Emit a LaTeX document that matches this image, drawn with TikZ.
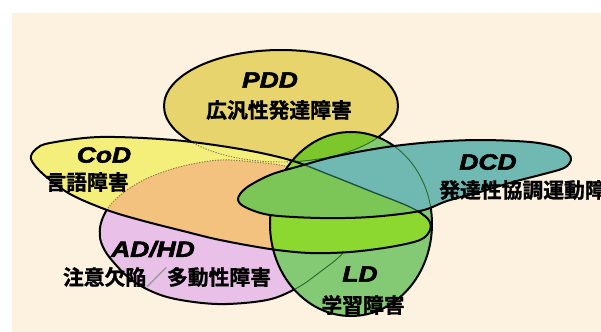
\documentclass[tikz,border=0pt]{standalone}
\usepackage{fontspec}
\usepackage{graphicx}
\newfontfamily\jpfont{Noto Sans CJK JP}[BoldFont={* Bold}, BoldFeatures={FakeBold=1.2}]
\newfontfamily\latinfont{Liberation Sans}[FakeBold=2.5]
\definecolor{bgcream}{HTML}{FDF1DF}
\definecolor{pddc}{HTML}{E8D46C}
\definecolor{codc}{HTML}{F4EF7A}
\definecolor{adhdc}{HTML}{E9C0E8}
\definecolor{orangec}{HTML}{F2C27E}
\definecolor{ldc}{HTML}{84CA74}
\definecolor{bandc}{HTML}{8CD830}
\definecolor{lensc}{HTML}{7CC72C}
\definecolor{medc}{HTML}{7CC657}
\definecolor{tealc}{HTML}{70B9B3}
\definecolor{hidc}{HTML}{8A7A5A}
\definecolor{thgc}{HTML}{2E6B2E}
\definecolor{darkc}{HTML}{1F4F40}
\definecolor{slashc}{HTML}{9A9A9A}
\tikzset{
  outl/.style={draw=black, line width=1.5pt, line join=round},
  hidd/.style={draw=hidc, line width=0.7pt, dash pattern=on 1pt off 1pt},
  thing/.style={draw=thgc, line width=0.7pt},
  darkl/.style={draw=darkc, line width=1pt},
  lat/.style={inner sep=0pt, font=\latinfont\bfseries\itshape\fontsize{16.5pt}{18pt}\selectfont},
  jp/.style={inner sep=0pt, font=\jpfont\bfseries\fontsize{15.6pt}{18pt}\selectfont}
}
\def\pdd{(281,106) ellipse (117 and 56)}
\def\ld{(351,224) ellipse (81 and 92)}
\def\cod{plot[smooth cycle, tension=0.55] coordinates {(31,159) (36,149) (50,143) (100,137) (173,140) (240,149) (290,160) (330,175) (370,191) (410,207) (428,219) (430,230) (420,240) (390,247) (350,252) (310,253) (270,249) (220,240) (183,231) (140,220) (107,210) (70,194) (43,174)}}
\def\adhd{plot[smooth cycle, tension=0.55] coordinates {(100,228) (104,215) (112,203) (127,190) (150,177) (183,166) (220,160) (253,162) (290,167) (330,182) (352,205) (356,230) (343,253) (320,272) (297,288) (267,300) (217,304) (167,297) (133,281) (110,258) (101,242)}}
\def\dcd{plot[smooth cycle, tension=0.55] coordinates {(238,199) (246,188) (270,175) (300,166) (337,156) (387,147) (433,142) (480,140) (530,142) (557,147) (568,153) (571,160) (564,168) (540,175) (513,182) (480,192) (447,201) (420,211) (370,217) (320,218) (270,215) (245,207)}}
\begin{document}
\begin{tikzpicture}[x=0.75pt, y=-0.75pt]
\useasboundingbox (0,0) rectangle (601,332);
\fill[white] (0,0) rectangle (601,332);
\fill[bgcream] (12,13) rectangle (601,332);
% PDD
\fill[pddc] \pdd;
\draw[outl] \pdd;
% ADHD
\fill[adhdc] \adhd;
\draw[outl] \adhd;
% CoD
\fill[codc] \cod;
\begin{scope}
  \clip \cod;
  \fill[orangec] \adhd;
  \draw[hidd] \pdd;
  \draw[hidd] \adhd;
\end{scope}
\draw[outl] \cod;
% LD
\fill[ldc] \ld;
\begin{scope}
  \clip \ld;
  \draw[thing] \adhd;
  \fill[bandc] \cod;
  \fill[lensc] \pdd;
  \draw[thing] \pdd;
  \draw[outl] \cod;
\end{scope}
\draw[outl] \ld;
% DCD
\fill[tealc] \dcd;
\begin{scope}
  \clip \dcd;
  \draw[thing] \ld;
  \fill[medc] \cod;
  \draw[darkl] \cod;
\end{scope}
\draw[outl] \dcd;
% labels
\node[lat] (pddT) at (270,80) {\scalebox{1.2}[1]{PDD}};
\node[jp] (pddJ) at (279,110) {広汎性発達障害};
\node[lat] (codT) at (104,155) {\scalebox{1.2}[1]{CoD}};
\node[jp] (codJ) at (87,182) {言語障害};
\node[lat] (adhdT) at (153,249) {\scalebox{1.2}[1]{AD/HD}};
\node[jp] (adhdJ) at (167,277) {注意欠陥{\color{slashc}／}多動性障害};
\node[lat] (dcdT) at (488,162) {\scalebox{1.2}[1]{DCD}};
\node[jp, anchor=west] (dcdJ) at (439,190) {発達性協調運動障};
\node[lat] (ldT) at (360,274) {\scalebox{1.2}[1]{LD}};
\node[jp] (ldJ) at (363,305) {学習障害};
\end{tikzpicture}
\end{document}
